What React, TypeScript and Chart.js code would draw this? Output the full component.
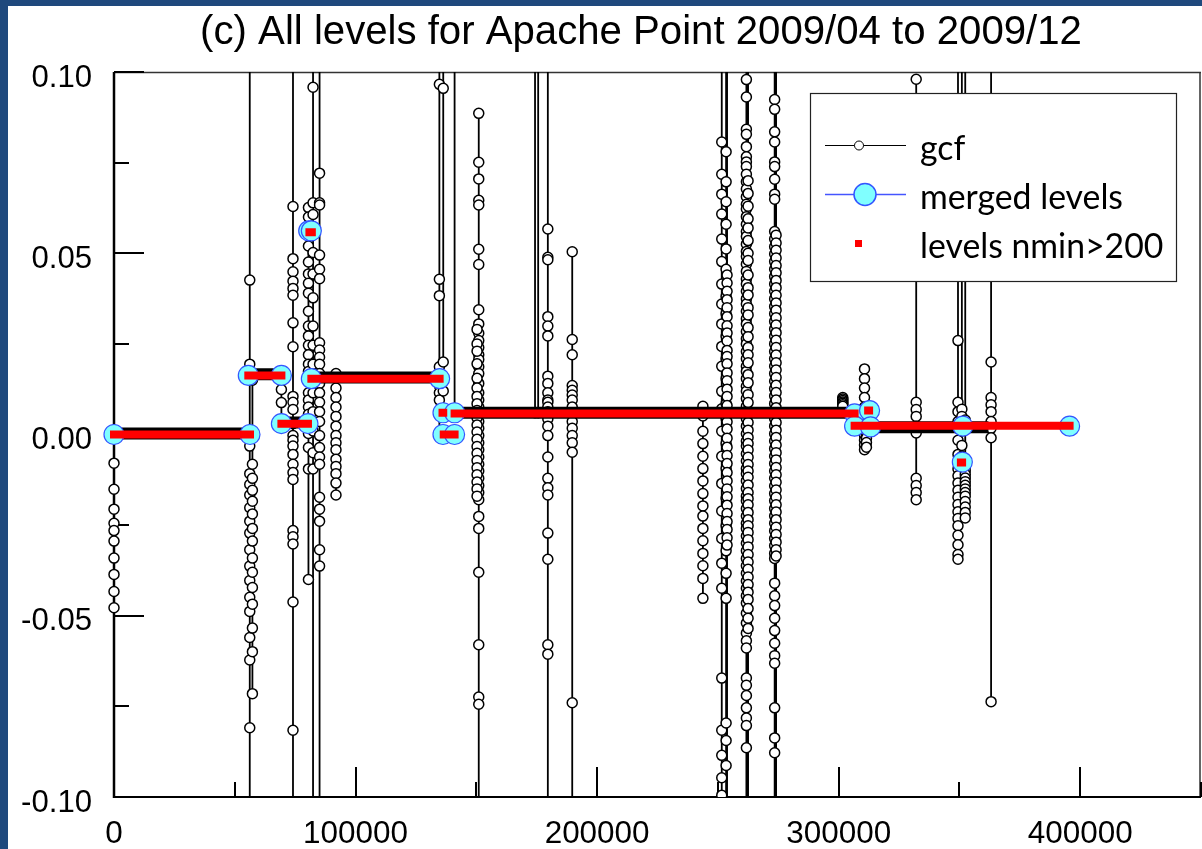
import React, { useEffect, useRef } from 'react';
import { Chart, registerables } from 'chart.js';

Chart.register(...registerables);

const TITLE = '(c) All levels for Apache Point 2009/04 to 2009/12';
const X_MIN = 0;
const X_MAX = 450000;
const Y_MIN = -0.1;
const Y_MAX = 0.1;
const X_LABEL_TICKS = [0, 100000, 200000, 300000, 400000];
const Y_LABEL_TICKS = [0.1, 0.05, 0.0, -0.05, -0.1];
const X_MAJOR = 100000;
const X_MINOR = 50000;
const Y_MAJOR = 0.05;
const Y_MINOR = 0.025;

// ---- gcf clusters (x position, then y values in plotting order; ±0.5 = off-chart points) ----
const gcfClusterX = [
  0, 56200, 57300, 69300, 74100, 80500, 82400, 85100, 91900, 134700, 136300, 141000,
  151000, 150300, 174300, 175600, 179600, 189700, 243800, 251600, 253400, 253800, 261800, 262500,
  273500, 274100, 301700, 310700, 311500, 332100, 349400, 351000, 352400, 363100,
];
const gcf00 = [0.0, -0.0079, -0.0151, -0.0206, -0.0245, -0.0265, -0.0294, -0.0341, -0.0386, -0.0433, -0.0478];
const gcf01 = [0.5, 0.0426, 0.0194, 0.0161, 0.0, -0.0032, -0.0108, -0.0138, -0.0167, -0.0202, -0.0239, -0.0272, -0.0318, -0.0363, -0.0403, -0.0449, -0.0488, -0.056, -0.0622, -0.0809, -0.5];
const gcf02 = [0.015, 0.0, -0.0082, -0.0121, -0.0154, -0.0184, -0.0219, -0.0259, -0.0294, -0.0341, -0.038, -0.0422, -0.0468, -0.0534, -0.0599, -0.0715];
const gcf03 = [0.0163, 0.0124, 0.0088, 0.003];
const gcf04 = [0.5, 0.0629, 0.0485, 0.0449, 0.0423, 0.0403, 0.0384, 0.0308, 0.0242, 0.0105, 0.0089, 0.0069, 0.003, -0.0003, -0.0016, -0.0032, -0.0055, -0.0082, -0.0105, -0.0124, -0.0265, -0.0282, -0.0302, -0.0462, -0.0816, -0.5];
const gcf05 = [0.0626, 0.06, 0.052, 0.0476, 0.0443, 0.0417, 0.039, 0.034, 0.0299, 0.0272, 0.0246, 0.022, 0.0194, 0.0174, 0.0152, 0.0115, 0.0095, 0.0076, 0.0056, 0.0036, 0.0003, -0.0036, -0.0095, -0.04];
const gcf06 = [0.5, 0.0958, 0.0639, 0.0607, 0.0562, 0.0502, 0.0443, 0.0377, 0.0299, 0.0246, 0.0194, 0.0154, 0.0115, 0.0063, 0.001, -0.005, -0.0095, -0.5];
const gcf07 = [0.5, 0.0721, 0.0639, 0.0633, 0.0495, 0.0456, 0.043, 0.0253, 0.0233, 0.0213, 0.0194, 0.0168, 0.0141, 0.0115, 0.0089, 0.0063, 0.0036, -0.0003, -0.0036, -0.0062, -0.0082, -0.0173, -0.0206, -0.0239, -0.0318, -0.0363, -0.5];
const gcf08 = [0.0168, 0.0128, 0.0102, 0.0076, 0.005, 0.0023, -0.0003, -0.0023, -0.0042, -0.0068, -0.0088, -0.0108, -0.0134, -0.0167];
const gcf09 = [0.5, 0.0966, 0.0428, 0.0383, 0.0187, 0.0161, 0.0135, 0.0115, 0.0095, 0.006, 0.0];
const gcf10 = [0.5, 0.0955, 0.02, 0.015, 0.012, 0.006];
const gcf11 = [0.5, 0.006];
const gcf12 = [0.0886, 0.0751, 0.0705, 0.0646, 0.0633, 0.0511, 0.0469, 0.0344, 0.0305, 0.0279, 0.0259, 0.024, 0.022, 0.0207, 0.0187, 0.0168, 0.0141, 0.0115, 0.0095, 0.0076, 0.0056, 0.0036, 0.0017, -0.0003, -0.0023, -0.0042, -0.0062, -0.0082, -0.0101, -0.0121, -0.0141, -0.016, -0.018, -0.0226, -0.0259, -0.038, -0.058, -0.0724, -0.0744, -0.5];
const gcf13 = [0.029, 0.025, 0.023, 0.0195, 0.0155, 0.0128, 0.0105, 0.0085, 0.0066, 0.0046, 0.0026, 0.0007, -0.0013, -0.0033, -0.0052, -0.0072, -0.0092, -0.0111, -0.0131, -0.015, -0.017];
const gcf14 = [0.5, 0.006];
const gcf15 = [0.5, 0.006];
const gcf16 = [0.5, 0.0567, 0.0489, 0.0482, 0.0325, 0.0299, 0.0272, 0.0161, 0.0141, 0.0115, 0.0095, 0.0089, 0.0076, 0.0063, 0.0043, 0.0023, -0.0003, -0.0062, -0.0121, -0.0147, -0.0167, -0.0272, -0.0344, -0.058, -0.0606, -0.5];
const gcf17 = [0.0504, 0.0262, 0.022, 0.0135, 0.0122, 0.0109, 0.0095, 0.0076, 0.0056, 0.0036, 0.0017, -0.0003, -0.0023, -0.0049, -0.074, -0.5];
const gcf18 = [0.0078, 0.0051, 0.0009, -0.0025, -0.006, -0.0094, -0.0128, -0.0163, -0.0197, -0.0225, -0.0259, -0.0293, -0.0328, -0.0362, -0.0397, -0.0452];
const gcf19 = [0.5, 0.0807, 0.0718, 0.0663, 0.0608, 0.0539, 0.0477, 0.0415, 0.036, 0.0305, 0.0243, 0.0188, 0.0119, 0.0071, 0.0009, -0.006, -0.0135, -0.0211, -0.0287, -0.0355, -0.0424, -0.0672, -0.0816, -0.0885, -0.0947, -0.0995, -0.5];
const gcf20 = [0.5, 0.078, 0.0697, 0.0642, 0.058, 0.0512, 0.0456, 0.0381, 0.0333, 0.0271, 0.0209, 0.0154, 0.0085, 0.0044, -0.0025, -0.0094, -0.0176, -0.0252, -0.0321, -0.0383, -0.0452, -0.0796, -0.0844, -0.0913, -0.5];
const gcf20b = [0.5, 0.044, 0.0418, 0.0395, 0.0372, 0.035, 0.0325, 0.03, 0.028, 0.0258, 0.0232, 0.0215, 0.0195, 0.017, 0.0148, 0.0125, 0.0105, 0.008, 0.0058, 0.0035, 0.0015, -0.001, -0.0035, -0.0058, -0.008, -0.0105, -0.0128, -0.015, -0.0172, -0.0195, -0.0218, -0.024, -0.0262, -0.0285, -0.0305, -0.5];
const gcf21 = [0.5, 0.0979, 0.0931, 0.0842, 0.0828, 0.0794, 0.0766, 0.0752, 0.0739, 0.0718, 0.0697, 0.0677, 0.0656, 0.0635, 0.0622, 0.0601, 0.058, 0.056, 0.0546, 0.0525, 0.0505, 0.0491, 0.047, 0.045, 0.0429, 0.0415, 0.0395, 0.0374, 0.036, 0.034, 0.0319, 0.0305, 0.0284, 0.0264, 0.025, 0.0229, 0.0209, 0.0188, 0.0174, 0.0154, 0.0133, 0.0119, 0.0099, 0.0078, 0.0064, 0.0044, 0.0023, 0.0002, -0.0018, -0.0032, -0.0053, -0.0073, -0.0094, -0.0108, -0.0128, -0.0149, -0.017, -0.0183, -0.0204, -0.0225, -0.0245, -0.0259, -0.028, -0.03, -0.0321, -0.0342, -0.0362, -0.0383, -0.0404, -0.0424, -0.0445, -0.0465, -0.0493, -0.052, -0.0548, -0.0569, -0.0589, -0.0672, -0.0692, -0.072, -0.0754, -0.0782, -0.0803, -0.0864, -0.5];
const gcf21b = [0.5, 0.07, 0.0665, 0.063, 0.0595, 0.057, 0.0535, 0.05, 0.048, 0.044, 0.0405, 0.0385, 0.035, 0.033, 0.0295, 0.027, 0.024, 0.022, 0.0198, 0.0165, 0.0143, 0.011, 0.0088, 0.0055, 0.0033, 0.0012, -0.0008, -0.0025, -0.0043, -0.0063, -0.0083, -0.0101, -0.0118, -0.0139, -0.016, -0.0177, -0.0194, -0.0215, -0.0235, -0.0252, -0.027, -0.029, -0.031, -0.0331, -0.0352, -0.0372, -0.0393, -0.0414, -0.0435, -0.0455, -0.048, -0.0507, -0.0535, -0.5];
const gcf22 = [0.5, 0.0924, 0.0897, 0.0835, 0.0807, 0.0752, 0.0739, 0.0704, 0.0663, 0.0649, 0.056, 0.0539, 0.0518, 0.0498, 0.0477, 0.0456, 0.0436, 0.0415, 0.0395, 0.0374, 0.0353, 0.0333, 0.0312, 0.0291, 0.0271, 0.025, 0.0229, 0.0209, 0.0188, 0.0168, 0.0147, 0.0126, 0.0106, 0.0085, 0.0064, 0.0044, 0.0023, 0.0002, -0.0018, -0.0039, -0.006, -0.008, -0.0101, -0.0121, -0.0142, -0.0163, -0.0183, -0.0204, -0.0225, -0.0245, -0.0266, -0.0287, -0.0307, -0.0328, -0.0342, -0.041, -0.0445, -0.0472, -0.0507, -0.0541, -0.0576, -0.061, -0.0631, -0.0754, -0.0837, -0.0878, -0.5];
const gcf22b = [0.5, 0.055, 0.0528, 0.0508, 0.0487, 0.0466, 0.0446, 0.0425, 0.0405, 0.0384, 0.0363, 0.0343, 0.0322, 0.0302, 0.0281, 0.026, 0.024, 0.0219, 0.0198, 0.0178, 0.0157, 0.0136, 0.0116, 0.0095, 0.0074, 0.0054, 0.0033, 0.0012, -0.0008, -0.0029, -0.005, -0.007, -0.0091, -0.0111, -0.0132, -0.0153, -0.0173, -0.0194, -0.0214, -0.0235, -0.0256, -0.0276, -0.0297, -0.0318, -0.0335, -0.5];
const gcf23 = [0.0102, 0.0098, 0.0094, 0.009, 0.0086, 0.0082, 0.0078];
const gcf24 = [0.0181, 0.0154, 0.0128, 0.0102, 0.0076, 0.005, 0.0023, -0.0003, -0.0016, -0.0029, -0.0042];
const gcf25 = [0.003, 0.0015, 0.0, -0.001, -0.0022, -0.0035];
const gcf26 = [0.098, 0.0089, 0.0069, 0.005, 0.0023, 0.0004, -0.0121, -0.0141, -0.016, -0.018];
const gcf27 = [0.5, 0.0259, 0.0089, 0.0063, 0.0036, 0.0017, -0.0016, -0.0055, -0.0095, -0.0114, -0.0134, -0.0154, -0.0173, -0.0193, -0.0213, -0.0232, -0.0252, -0.0278, -0.0304, -0.0331, -0.0344];
const gcf28 = [0.5, 0.007, 0.005, 0.003, 0.001, -0.003, -0.006, -0.008];
const gcf29 = [0.5, 0.004, -0.009, -0.01, -0.011, -0.012, -0.013, -0.014, -0.015, -0.016, -0.017, -0.0185, -0.02, -0.0215, -0.023];
const gcf30 = [0.5, 0.02, 0.0102, 0.0082, 0.0063, 0.0036, 0.0017, -0.0009, -0.0737];
const gcfClusterY = [
  gcf00, gcf01, gcf02, gcf03, gcf04, gcf05, gcf06, gcf07, gcf08, gcf09, gcf10, gcf11,
  gcf12, gcf13, gcf14, gcf15, gcf16, gcf17, gcf18, gcf19, gcf20, gcf20b, gcf21, gcf21b,
  gcf22, gcf22b, gcf23, gcf24, gcf25, gcf26, gcf27, gcf28, gcf29, gcf30,
];

// ---- merged levels (cyan circles) ----
const mergedX = [0, 56300, 55600, 69300, 69300, 80300, 80600, 81700, 81700, 134800, 136200, 141000, 136200, 141000, 306600, 306600, 312800, 313200, 351400, 351200, 395600];
const mergedY = [0.0, 0.0, 0.0163, 0.0163, 0.003, 0.003, 0.0562, 0.0562, 0.0154, 0.0154, 0.006, 0.006, 0.0, 0.0, 0.0057, 0.0023, 0.0066, 0.0021, 0.0023, -0.0076, 0.0023];

// ---- levels nmin>200 (red segments) ----
const levelX1 = [0, 55600, 69300, 81700, 80900, 136000, 136500, 141000, 312200, 306600, 350600];
const levelX2 = [56300, 69300, 80300, 134800, 81900, 136300, 141000, 306600, 312600, 395600, 351100];
const levelY = [0.0, 0.0163, 0.003, 0.0154, 0.0558, 0.006, 0.0, 0.0058, 0.0066, 0.0024, -0.0077];

// ---- black level traces under the red levels ----
const traceX1 = [0, 55600, 69300, 81700, 141000, 306600];
const traceX2 = [56300, 69300, 80300, 134800, 306600, 362000];
const traceY = [0.0003, 0.0166, 0.0033, 0.0157, 0.006, 0.002];

const BLUE_FRAME = '#1F497D';
const CYAN = '#80FFFF';
const CYAN_EDGE = '#3355FF';
const RED = '#FF0000';
const SANS = '"Liberation Sans", Arial, sans-serif';
const LEGEND_FONT = 'Lato, "Open Sans", sans-serif';

function buildGcf() {
  const pts: any[] = [];
  gcfClusterX.forEach((x, i) => {
    gcfClusterY[i].forEach((y) => pts.push({ x, y }));
    pts.push({ x, y: null });
  });
  return pts;
}

function buildSegments(x1: number[], x2: number[], y: number[]) {
  const pts: any[] = [];
  x1.forEach((a, i) => {
    pts.push({ x: a, y: y[i] });
    pts.push({ x: x2[i], y: y[i] });
    pts.push({ x: x2[i], y: null });
  });
  return pts;
}

function fitFont(ctx: CanvasRenderingContext2D, text: string, family: string, base: number, target: number) {
  ctx.font = `${base}px ${family}`;
  const w = ctx.measureText(text).width;
  if (!w) return base;
  return Math.max(base * 0.8, Math.min(base * 1.25, (base * target) / w));
}

const framePlugin = {
  id: 'framePlugin',
  beforeDraw(chart: any) {
    const ctx = chart.ctx;
    ctx.save();
    ctx.fillStyle = '#ffffff';
    ctx.fillRect(0, 0, chart.width, chart.height);
    ctx.fillStyle = BLUE_FRAME;
    ctx.fillRect(0, 0, 8, chart.height);
    ctx.fillRect(0, 0, chart.width, 6);
    const fs = fitFont(ctx, TITLE, SANS, 38, 882);
    ctx.fillStyle = '#000';
    ctx.font = `${fs}px ${SANS}`;
    ctx.textAlign = 'center';
    ctx.textBaseline = 'alphabetic';
    ctx.fillText(TITLE, 641, 44);
    ctx.restore();
  },
  beforeDatasetsDraw(chart: any) {
    const { ctx, chartArea: a, scales } = chart;
    const xs = scales.x;
    const ys = scales.y;
    ctx.save();
    ctx.strokeStyle = '#333';
    ctx.lineWidth = 1.5;
    ctx.beginPath();
    ctx.moveTo(a.left, a.top + 0.5);
    ctx.lineTo(a.right, a.top + 0.5);
    ctx.moveTo(a.right - 1, a.top);
    ctx.lineTo(a.right - 1, a.bottom);
    ctx.stroke();
    ctx.strokeStyle = '#000';
    ctx.lineWidth = 2.5;
    ctx.beginPath();
    ctx.moveTo(a.left, a.top);
    ctx.lineTo(a.left, a.bottom + 1);
    ctx.stroke();
    ctx.lineWidth = 2;
    ctx.beginPath();
    ctx.moveTo(a.left - 1, a.bottom);
    ctx.lineTo(a.right, a.bottom);
    ctx.stroke();
    ctx.lineWidth = 2;
    ctx.beginPath();
    for (let v = X_MIN; v <= X_MAX + 1; v += X_MINOR) {
      const px = Math.round(xs.getPixelForValue(v));
      const len = Math.abs(v % X_MAJOR) < 1 ? 30 : 15;
      ctx.moveTo(px, a.bottom);
      ctx.lineTo(px, a.bottom - len);
    }
    const nY = Math.round((Y_MAX - Y_MIN) / Y_MINOR);
    for (let k = 0; k <= nY; k++) {
      const v = Y_MIN + k * Y_MINOR;
      const py = Math.round(ys.getPixelForValue(v));
      const len = k % Math.round(Y_MAJOR / Y_MINOR) === 0 ? 30 : 15;
      ctx.moveTo(a.left, py);
      ctx.lineTo(a.left + len, py);
    }
    ctx.stroke();
    ctx.fillStyle = '#000';
    const fx = fitFont(ctx, '400000', SANS, 31, 105);
    ctx.font = `${fx}px ${SANS}`;
    ctx.textAlign = 'center';
    ctx.textBaseline = 'alphabetic';
    X_LABEL_TICKS.forEach((v) => {
      ctx.fillText(String(v), xs.getPixelForValue(v), a.bottom + 46);
    });
    const fy = fitFont(ctx, '-0.10', SANS, 31, 71);
    ctx.font = `${fy}px ${SANS}`;
    ctx.textAlign = 'right';
    Y_LABEL_TICKS.forEach((v) => {
      ctx.fillText(v.toFixed(2), a.left - 22, ys.getPixelForValue(v) + 14.5);
    });
    ctx.restore();
  },
  afterDatasetsDraw(chart: any) {
    const ctx = chart.ctx;
    const ds = chart.data.datasets.filter((d: any) => d.legendKind);
    const order = ['gcf', 'merged', 'red'];
    ds.sort((p: any, q: any) => order.indexOf(p.legendKind) - order.indexOf(q.legendKind));
    ctx.save();
    const bx = 810, by = 93, bw = 367, bh = 189;
    ctx.fillStyle = '#fff';
    ctx.fillRect(bx, by, bw, bh);
    ctx.strokeStyle = '#222';
    ctx.lineWidth = 1.2;
    ctx.strokeRect(bx + 0.5, by + 0.5, bw - 1, bh - 1);
    const fs = fitFont(ctx, 'merged levels', LEGEND_FONT, 31, 203);
    const rows = [145.5, 194.5, 243.5];
    ds.forEach((d: any, i: number) => {
      const y = rows[i];
      if (d.legendKind === 'gcf') {
        ctx.strokeStyle = '#000';
        ctx.lineWidth = 1;
        ctx.beginPath();
        ctx.moveTo(825, y);
        ctx.lineTo(906, y);
        ctx.stroke();
        ctx.beginPath();
        ctx.arc(859, y, 4.5, 0, Math.PI * 2);
        ctx.fillStyle = '#fff';
        ctx.fill();
        ctx.stroke();
      } else if (d.legendKind === 'merged') {
        ctx.strokeStyle = '#4455FF';
        ctx.lineWidth = 1.5;
        ctx.beginPath();
        ctx.moveTo(825, y);
        ctx.lineTo(906, y);
        ctx.stroke();
        ctx.beginPath();
        ctx.arc(865, y, 11, 0, Math.PI * 2);
        ctx.fillStyle = CYAN;
        ctx.fill();
        ctx.strokeStyle = CYAN_EDGE;
        ctx.stroke();
      } else {
        ctx.fillStyle = RED;
        ctx.fillRect(855, y - 3.5, 7, 7);
      }
      ctx.fillStyle = '#000';
      ctx.font = `${fs}px ${LEGEND_FONT}`;
      ctx.textAlign = 'left';
      ctx.textBaseline = 'alphabetic';
      ctx.fillText(d.label, 920, y + 14);
    });
    ctx.restore();
  },
};

export default function App() {
  const ref = useRef<HTMLCanvasElement>(null);
  useEffect(() => {
    if (!ref.current) return;
    const clip = { left: 12, top: 0, right: 0, bottom: 0 };
    const chart = new Chart(ref.current, {
      type: 'scatter',
      data: {
        datasets: [
          {
            label: 'levels nmin>200',
            legendKind: 'red',
            data: buildSegments(levelX1, levelX2, levelY),
            showLine: true,
            spanGaps: false,
            borderColor: RED,
            borderWidth: 8,
            borderCapStyle: 'square',
            pointRadius: 0,
            clip,
          } as any,
          {
            label: 'merged levels',
            legendKind: 'merged',
            data: mergedX.map((x, i) => ({ x, y: mergedY[i] })),
            showLine: false,
            pointRadius: 10,
            pointBackgroundColor: CYAN,
            pointBorderColor: CYAN_EDGE,
            pointBorderWidth: 1.2,
            clip,
          } as any,
          {
            label: 'level trace',
            data: buildSegments(traceX1, traceX2, traceY),
            showLine: true,
            spanGaps: false,
            borderColor: '#000',
            borderWidth: 12,
            pointRadius: 0,
            clip,
          } as any,
          {
            label: 'gcf',
            legendKind: 'gcf',
            data: buildGcf(),
            showLine: true,
            spanGaps: false,
            borderColor: '#000',
            borderWidth: 1.8,
            pointRadius: 5,
            pointBackgroundColor: '#fff',
            pointBorderColor: '#000',
            pointBorderWidth: 1.5,
            clip,
          } as any,
        ],
      },
      options: {
        responsive: false,
        animation: false,
        devicePixelRatio: 1,
        events: [],
        layout: { autoPadding: false, padding: { top: 72, right: 1, left: 0, bottom: 0 } },
        plugins: {
          legend: { display: false },
          tooltip: { enabled: false },
          title: { display: false },
        },
        scales: {
          x: {
            type: 'linear',
            min: X_MIN,
            max: X_MAX,
            afterFit: (s: any) => {
              s.height = 52;
              s.paddingLeft = 0;
              s.paddingRight = 0;
            },
            grid: { display: false, drawTicks: false },
            border: { display: false },
            ticks: { display: false },
          },
          y: {
            type: 'linear',
            min: Y_MIN,
            max: Y_MAX,
            afterFit: (s: any) => {
              s.width = 114;
              s.paddingTop = 0;
              s.paddingBottom = 0;
            },
            grid: { display: false, drawTicks: false },
            border: { display: false },
            ticks: { display: false },
          },
        },
      } as any,
      plugins: [framePlugin as any],
    });
    return () => chart.destroy();
  }, []);
  return (
    <div style={{ position: 'absolute', left: 0, top: 0, width: 1202, height: 849, background: '#fff' }}>
      <canvas ref={ref} width={1202} height={849} style={{ display: 'block', width: 1202, height: 849 }} />
    </div>
  );
}
